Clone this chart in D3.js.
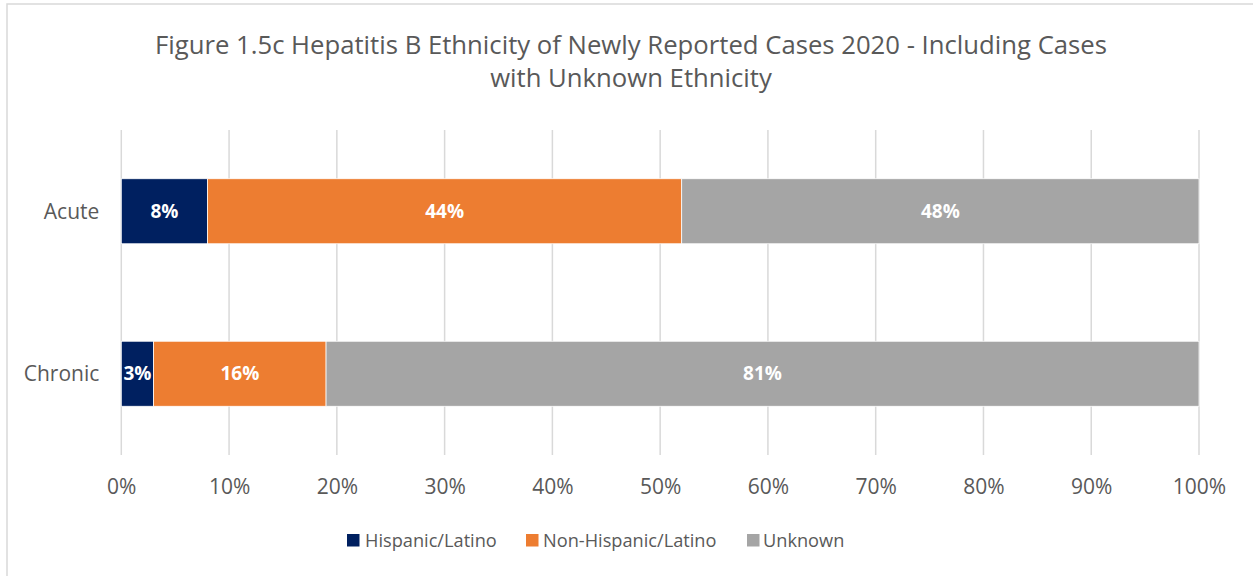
<!DOCTYPE html>
<html>
<head>
<meta charset="utf-8">
<script src="https://cdn.jsdelivr.net/npm/d3@7"></script>
<style>
  html, body { margin: 0; padding: 0; background: #fff; }
  svg { display: block; font-family: "Open Sans", "Noto Sans", sans-serif; }
</style>
</head>
<body>
<svg id="chart" width="1253" height="576"></svg>
<script>
// Hepatitis B 2020 newly reported cases by ethnicity (percent of cases)
const categories = ["Acute", "Chronic"];
const seriesNames = ["Hispanic/Latino", "Non-Hispanic/Latino", "Unknown"];
const hispanic = [8, 3];
const nonHispanic = [44, 16];
const unknown = [48, 81];
const tickValues = [0, 10, 20, 30, 40, 50, 60, 70, 80, 90, 100];
const titleLines = [
  "Figure 1.5c Hepatitis B Ethnicity of Newly Reported Cases 2020 - Including Cases",
  "with Unknown Ethnicity"
];

const colors = ["#002060", "#ED7D31", "#A5A5A5"];
const seriesValues = [hispanic, nonHispanic, unknown];

const svg = d3.select("#chart");
const W = 1253, H = 576;
const plot = { left: 121.3, right: 1199, top: 130, bottom: 455 };

// outer chart frame (open at right and bottom edges)
svg.append("rect")
  .attr("x", 7).attr("y", 4)
  .attr("width", W + 10).attr("height", H + 10)
  .attr("fill", "#fff").attr("stroke", "#D9D9D9").attr("stroke-width", 1.5);

// title
svg.append("g").selectAll("text").data(titleLines).join("text")
  .attr("x", 631).attr("y", (d, i) => 54 + i * 33)
  .attr("text-anchor", "middle")
  .attr("font-size", 25.7)
  .attr("fill", "#595959")
  .text(d => d);

const x = d3.scaleLinear().domain([0, 100]).range([plot.left, plot.right]);
const y = d3.scaleBand().domain(categories).range([plot.top, plot.bottom]).padding(0);
const barH = y.bandwidth() * 0.4;

// vertical gridlines
svg.append("g").selectAll("line").data(tickValues).join("line")
  .attr("x1", d => x(d)).attr("x2", d => x(d))
  .attr("y1", plot.top).attr("y2", plot.bottom)
  .attr("stroke", "#D9D9D9").attr("stroke-width", 1.5);

// x axis tick labels
const xAxis = d3.axisBottom(x).tickValues(tickValues).tickSize(0).tickPadding(0)
  .tickFormat(d => d + "%");
const gx = svg.append("g").attr("transform", `translate(0,${plot.bottom + 39})`).call(xAxis);
gx.select(".domain").remove();
gx.selectAll("text").attr("font-size", 21).attr("fill", "#595959")
  .attr("font-family", "\"Open Sans\", sans-serif").attr("dy", 0);

// y axis category labels
const yAxis = d3.axisLeft(y).tickSize(0).tickPadding(0);
const gy = svg.append("g").attr("transform", `translate(${plot.left - 22},0)`).call(yAxis);
gy.select(".domain").remove();
gy.selectAll("text").attr("font-size", 21).attr("fill", "#595959")
  .attr("font-family", "\"Open Sans\", sans-serif").attr("dy", "0.35em");

// stacked bars
const rows = categories.map((c, i) => {
  const r = { category: c };
  seriesNames.forEach((s, k) => { r[s] = seriesValues[k][i]; });
  return r;
});
const stacked = d3.stack().keys(seriesNames)(rows);

const layers = svg.append("g").selectAll("g").data(stacked).join("g")
  .attr("fill", (d, i) => colors[i]);

layers.selectAll("rect").data(d => d).join("rect")
  .attr("x", d => x(d[0]))
  .attr("width", d => x(d[1]) - x(d[0]))
  .attr("y", d => y(d.data.category) + (y.bandwidth() - barH) / 2)
  .attr("height", barH)
  .attr("stroke", "#fff").attr("stroke-width", 0.75);

// value labels
layers.selectAll("text").data(d => d).join("text")
  .attr("x", d => (x(d[0]) + x(d[1])) / 2)
  .attr("y", d => y(d.data.category) + y.bandwidth() / 2)
  .attr("dy", "0.35em")
  .attr("text-anchor", "middle")
  .attr("font-size", 19).attr("font-weight", "bold")
  .attr("fill", "#fff")
  .text(d => (d[1] - d[0]) + "%");

// legend
const legendItems = [
  { name: seriesNames[0], sx: 347, tx: 365 },
  { name: seriesNames[1], sx: 526, tx: 543 },
  { name: seriesNames[2], sx: 747, tx: 763 }
];
const lg = svg.append("g").selectAll("g").data(legendItems).join("g");
lg.append("rect")
  .attr("x", d => d.sx).attr("y", 534).attr("width", 12.5).attr("height", 12.5)
  .attr("fill", (d, i) => colors[i]);
lg.append("text")
  .attr("x", d => d.tx).attr("y", 540.5).attr("dy", "0.35em")
  .attr("font-size", 18.2).attr("fill", "#595959")
  .text(d => d.name);
</script>
</body>
</html>
